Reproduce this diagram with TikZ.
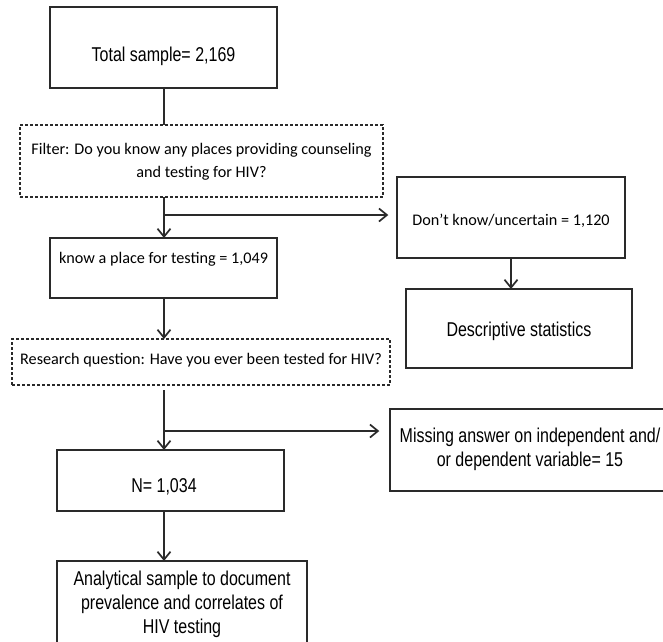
\documentclass[tikz,border=0pt]{standalone}
\usepackage{fontspec}
\setmainfont{Carlito}
\newfontfamily\narrowfont[FakeStretch=0.80]{Liberation Sans}
\usetikzlibrary{arrows.meta}
\definecolor{edge}{HTML}{2A2A2A}
\tikzset{
  x=1pt, y=-1pt,
  box/.style={draw=edge, line width=1.4pt, rectangle, inner sep=0pt},
  dbox/.style={draw=edge, line width=1.2pt, rectangle, inner sep=0pt, dash pattern=on 3pt off 2pt},
  cal/.style={font=\fontsize{16.2}{23}\selectfont, align=center, inner sep=0pt, text=black},
  nar/.style={font=\narrowfont\fontsize{20}{24}\selectfont, align=center, inner sep=0pt, text=black},
  conn/.style={draw=edge, line width=1.1pt},
  arr/.style={conn, -{Straight Barb[length=8pt, width=13pt, line width=1.7pt]}},
}
\begin{document}
\begin{tikzpicture}
\useasboundingbox (0,0) rectangle (663,641);
\begin{scope}
\clip (0,0) rectangle (663,641);
% boxes
\node[box, minimum width=227, minimum height=81] (total) at (163.5,47.5) {};
\node[nar] (totalt) at (163.5,56) {Total sample= 2,169};
\node[dbox, minimum width=363, minimum height=72] (filter) at (201.5,161) {};
\node[cal] (filtert) at (201.5,162) {Filter: Do you know any places providing counseling\\and testing for HIV?};
\node[box, minimum width=228, minimum height=81] (dk) at (511,217.5) {};
\node[cal] (dkt) at (511,221) {Don’t know/uncertain = 1,120};
\node[box, minimum width=227, minimum height=60] (know) at (163.5,268) {};
\node[cal] (knowt) at (163.5,259) {know a place for testing = 1,049};
\node[box, minimum width=226, minimum height=79] (desc) at (519,328.5) {};
\node[nar] (desct) at (519,331) {Descriptive statistics};
\node[dbox, minimum width=378, minimum height=46] (rq) at (201,362) {};
\node[cal] (rqt) at (201,360) {Research question: Have you ever been tested for HIV?};
\node[box, minimum width=280, minimum height=82] (miss) at (530,450) {};
\node[nar] (misst) at (530,449) {Missing answer on independent and/\\or dependent variable= 15};
\node[box, minimum width=227, minimum height=61] (n) at (170.5,480.5) {};
\node[nar] (nt) at (164,487) {N= 1,034};
\node[box, minimum width=250, minimum height=100] (ana) at (182,611) {};
\node[nar] (anat) at (182,604) {Analytical sample to document\\prevalence and correlates of\\HIV testing};
% connectors
\coordinate (b1) at (164,215);
\coordinate (b2) at (164,431);
\coordinate (s2) at (164,390);
\draw[conn] (164,88) coordinate (t1) -- (164,125) coordinate (t2);
\draw[conn] (164,197) coordinate (f1) -- (b1);
\draw[arr] (b1) -- ([xshift=-8pt]dk.west |- b1);
\draw[arr] (f1) -- (164,238) coordinate (k1);
\draw[arr] (511,258) coordinate (d1) -- (511,289) coordinate (d2);
\draw[arr] (164,298) coordinate (k2) -- (164,339) coordinate (r1);
\draw[conn] (s2) -- (b2);
\draw[arr] (b2) -- ([xshift=-10pt]miss.west |- b2);
\draw[arr] (b2) -- (164,450) coordinate (n1);
\draw[arr] (164,511) coordinate (n2) -- (164,561) coordinate (a1);
\end{scope}
\end{tikzpicture}
\end{document}
